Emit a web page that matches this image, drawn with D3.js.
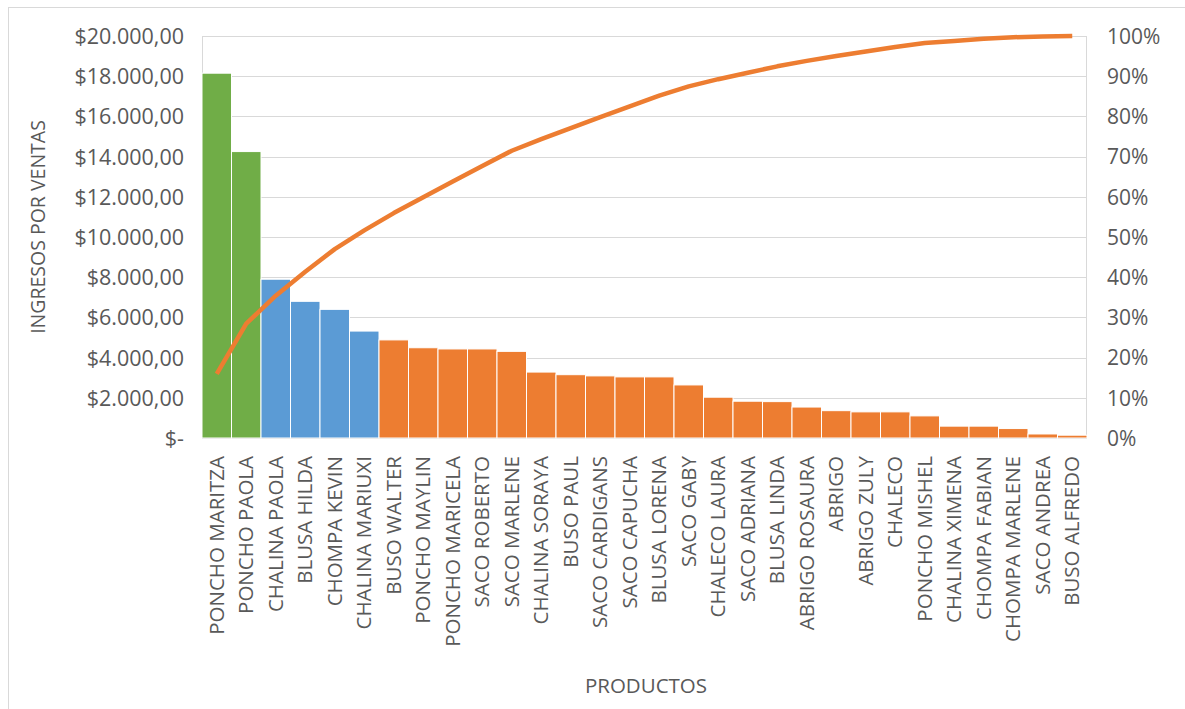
<!DOCTYPE html>
<html>
<head>
<meta charset="utf-8">
<script src="https://cdn.jsdelivr.net/npm/d3@7"></script>
<style>
  html, body { margin: 0; padding: 0; background: #fff; }
  svg { display: block; }
  text { font-family: "Open Sans", "DejaVu Sans", sans-serif; fill: #595959; }
</style>
</head>
<body>
<svg id="chart" width="1185" height="709"></svg>
<script>
// Productos ordenados de mayor a menor ingreso
const productos = [
  "PONCHO MARITZA", "PONCHO PAOLA", "CHALINA PAOLA", "BLUSA HILDA", "CHOMPA KEVIN",
  "CHALINA MARIUXI", "BUSO WALTER", "PONCHO MAYLIN", "PONCHO MARICELA", "SACO ROBERTO",
  "SACO MARLENE", "CHALINA SORAYA", "BUSO PAUL", "SACO CARDIGANS", "SACO CAPUCHA",
  "BLUSA LORENA", "SACO GABY", "CHALECO LAURA", "SACO ADRIANA", "BLUSA LINDA",
  "ABRIGO ROSAURA", "ABRIGO", "ABRIGO ZULY", "CHALECO", "PONCHO MISHEL",
  "CHALINA XIMENA", "CHOMPA FABIAN", "CHOMPA MARLENE", "SACO ANDREA", "BUSO ALFREDO"
];

// Ingresos por ventas ($)
const ingresos = [
  18150, 14250, 7900, 6800, 6400,
  5320, 4880, 4490, 4430, 4430,
  4310, 3280, 3150, 3090, 3040,
  3040, 2640, 2030, 1830, 1810,
  1540, 1360, 1300, 1300, 1100,
  590, 590, 470, 200, 140
];

// Clasificación ABC de cada producto
const clases = [
  "A", "A", "B", "B", "B",
  "B", "C", "C", "C", "C",
  "C", "C", "C", "C", "C",
  "C", "C", "C", "C", "C",
  "C", "C", "C", "C", "C",
  "C", "C", "C", "C", "C"
];

const ticksIngresos = [0, 2000, 4000, 6000, 8000, 10000, 12000, 14000, 16000, 18000, 20000];
const ticksPorcentaje = [0, 0.1, 0.2, 0.3, 0.4, 0.5, 0.6, 0.7, 0.8, 0.9, 1.0];

const coloresClase = { A: "#70AD47", B: "#5B9BD5", C: "#ED7D31" };

// Porcentaje acumulado de los ingresos
const total = d3.sum(ingresos);
const acumulado = Array.from(d3.cumsum(ingresos), v => v / total);

const svg = d3.select("#chart");
const plotLeft = 202, plotRight = 1087, plotTop = 36, plotBottom = 438;

// Borde exterior del gráfico
svg.append("rect")
  .attr("x", 8.5).attr("y", 7.5)
  .attr("width", 1200).attr("height", 720)
  .attr("fill", "none").attr("stroke", "#d9d9d9").attr("stroke-width", 1);

const x = d3.scaleBand().domain(productos).range([plotLeft, plotRight]).paddingInner(0).paddingOuter(0);
const y = d3.scaleLinear().domain([0, 20000]).range([plotBottom, plotTop]);
const yPct = d3.scaleLinear().domain([0, 1]).range([plotBottom, plotTop]);

// Líneas de cuadrícula
svg.append("g")
  .selectAll("line")
  .data(ticksIngresos)
  .join("line")
  .attr("x1", plotLeft).attr("x2", plotRight)
  .attr("y1", d => Math.round(y(d)) + 0.5)
  .attr("y2", d => Math.round(y(d)) + 0.5)
  .attr("stroke", "#d9d9d9").attr("stroke-width", 1);

// Borde del área de trazado
svg.append("rect")
  .attr("x", plotLeft + 0.5).attr("y", plotTop + 0.5)
  .attr("width", plotRight - plotLeft - 1).attr("height", plotBottom - plotTop)
  .attr("fill", "none").attr("stroke", "#d9d9d9").attr("stroke-width", 1);

// Barras de ingresos
svg.append("g")
  .selectAll("rect")
  .data(productos)
  .join("rect")
  .attr("x", d => x(d))
  .attr("y", (d, i) => y(ingresos[i]))
  .attr("width", x.bandwidth())
  .attr("height", (d, i) => plotBottom - y(ingresos[i]))
  .attr("fill", (d, i) => coloresClase[clases[i]])
  .attr("stroke", "#ffffff")
  .attr("stroke-width", 1);

// Curva de Pareto (porcentaje acumulado)
const linea = d3.line()
  .x((d, i) => x(productos[i]) + x.bandwidth() / 2)
  .y(d => yPct(d));

svg.append("path")
  .datum(acumulado)
  .attr("d", linea)
  .attr("fill", "none")
  .attr("stroke", "#ED7D31")
  .attr("stroke-width", 4.5)
  .attr("stroke-linejoin", "round")
  .attr("stroke-linecap", "butt");

// Eje izquierdo: ingresos
const fmtMoneda = d => d === 0 ? "$-" :
  "$" + d3.format(",.2f")(d).replace(/,/g, "#").replace(".", ",").replace(/#/g, ".");

const ejeY = d3.axisLeft(y).tickValues(ticksIngresos).tickFormat(fmtMoneda).tickSize(0).tickPadding(0);
const gY = svg.append("g").attr("transform", `translate(${plotLeft - 18},0)`).call(ejeY);
gY.select(".domain").remove();
gY.selectAll("text")
  .attr("font-size", 21.5)
  .attr("font-family", "'Open Sans', sans-serif")
  .attr("fill", "#595959")
  .attr("dy", "0.35em");

// Eje derecho: porcentaje acumulado
const ejeP = d3.axisRight(yPct).tickValues(ticksPorcentaje).tickFormat(d3.format(".0%")).tickSize(0).tickPadding(0);
const gP = svg.append("g").attr("transform", `translate(${plotRight + 20},0)`).call(ejeP);
gP.select(".domain").remove();
gP.selectAll("text")
  .attr("font-size", 21)
  .attr("font-family", "'Open Sans', sans-serif")
  .attr("fill", "#595959")
  .attr("dy", "0.35em");

// Eje inferior: productos en vertical
const ejeX = d3.axisBottom(x).tickSize(0).tickPadding(0);
const gX = svg.append("g").attr("transform", `translate(0,${plotBottom})`).call(ejeX);
gX.select(".domain").remove();
gX.selectAll("text")
  .attr("font-size", 20.5)
  .attr("font-family", "'Open Sans', sans-serif")
  .attr("fill", "#595959")
  .attr("transform", "rotate(-90)")
  .attr("text-anchor", "end")
  .attr("x", -18)
  .attr("y", 0)
  .attr("dy", "0.35em");

// Títulos de los ejes
svg.append("text")
  .attr("transform", "translate(45,227) rotate(-90)")
  .attr("text-anchor", "middle")
  .attr("font-size", 19.5)
  .text("INGRESOS POR VENTAS");

svg.append("text")
  .attr("x", 646).attr("y", 693)
  .attr("text-anchor", "middle")
  .attr("font-size", 20.5)
  .text("PRODUCTOS");
</script>
</body>
</html>
